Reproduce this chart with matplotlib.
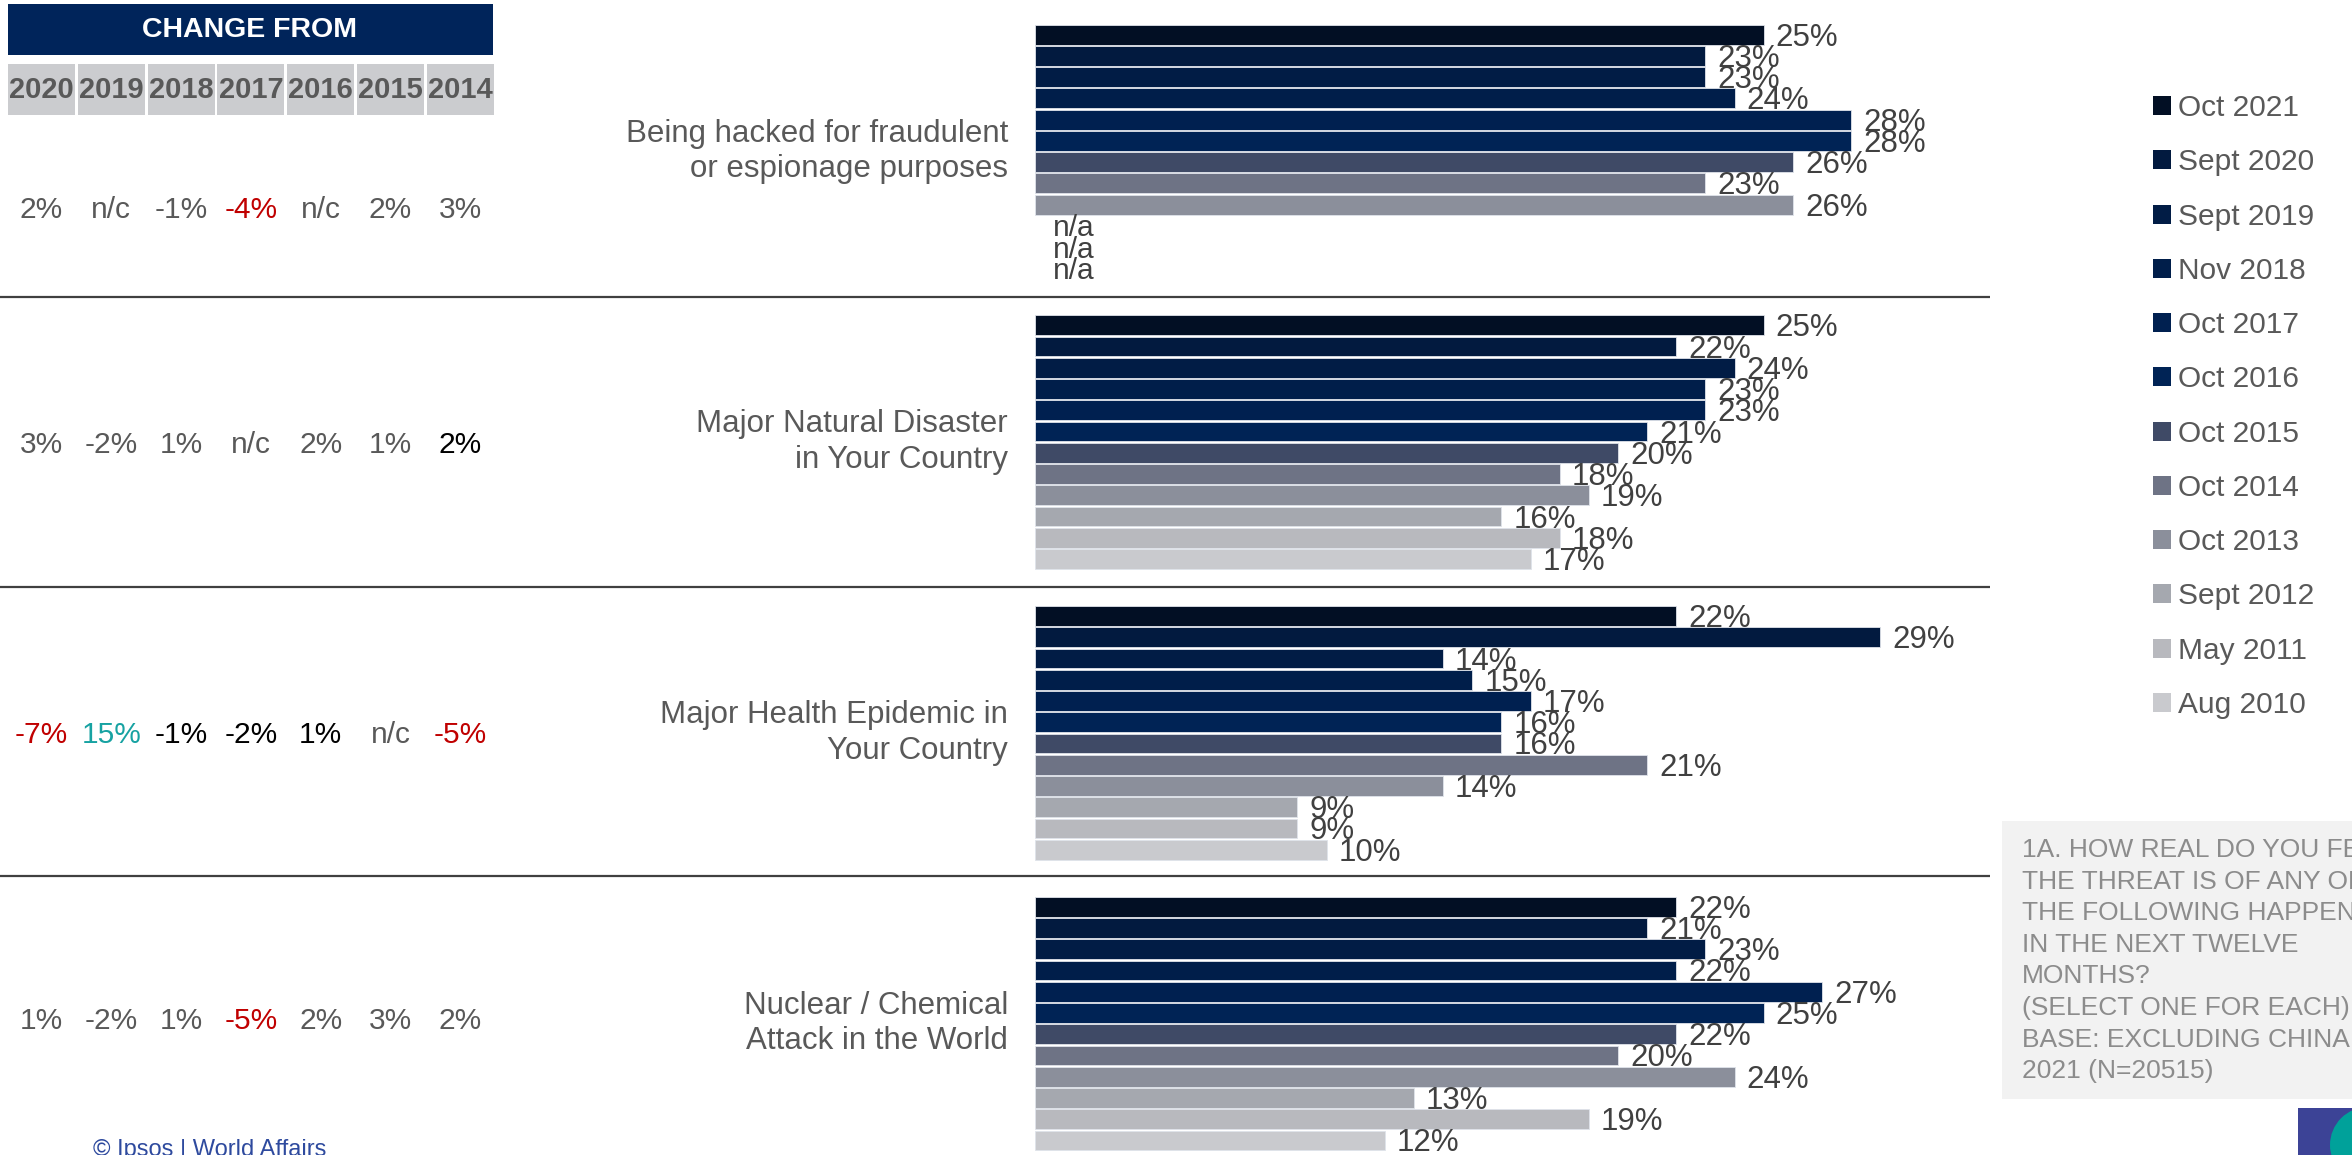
import matplotlib
matplotlib.use("Agg")
import matplotlib.pyplot as plt
from matplotlib.patches import Rectangle, Circle, Patch
from matplotlib import font_manager

# ---------------- data ----------------
categories = [
    "Being hacked for fraudulent\nor espionage purposes",
    "Major Natural Disaster\nin Your Country",
    "Major Health Epidemic in\nYour Country",
    "Nuclear / Chemical\nAttack in the World",
]
waves = ["Oct 2021", "Sept 2020", "Sept 2019", "Nov 2018", "Oct 2017", "Oct 2016",
         "Oct 2015", "Oct 2014", "Oct 2013", "Sept 2012", "May 2011", "Aug 2010"]
hacked = [25, 23, 23, 24, 28, 28, 26, 23, 26, None, None, None]
natural = [25, 22, 24, 23, 23, 21, 20, 18, 19, 16, 18, 17]
health = [22, 29, 14, 15, 17, 16, 16, 21, 14, 9, 9, 10]
nuclear = [22, 21, 23, 22, 27, 25, 22, 20, 24, 13, 19, 12]
series = [hacked, natural, health, nuclear]

change_years = ["2020", "2019", "2018", "2017", "2016", "2015", "2014"]
change_hacked = ["2%", "n/c", "-1%", "-4%", "n/c", "2%", "3%"]
change_natural = ["3%", "-2%", "1%", "n/c", "2%", "1%", "2%"]
change_health = ["-7%", "15%", "-1%", "-2%", "1%", "n/c", "-5%"]
change_nuclear = ["1%", "-2%", "1%", "-5%", "2%", "3%", "2%"]
changes = [change_hacked, change_natural, change_health, change_nuclear]

question = ("1A. HOW REAL DO YOU FEEL\nTHE THREAT IS OF ANY OF\nTHE FOLLOWING HAPPENING\n"
            "IN THE NEXT TWELVE\nMONTHS?\n(SELECT ONE FOR EACH)\nBASE: EXCLUDING CHINA\n2021 (N=20515)")
footer = "\u00a9 Ipsos | World Affairs"

# ---------------- styles ----------------
wave_colors = ["#020F24", "#021A3F", "#011C45", "#001E4A", "#002050", "#002355",
               "#3F4A66", "#6E7385", "#8B8F9B", "#A5A8AF", "#B8B9BE", "#C9CACE"]
GRAY = "#595959"
RED = "#C00000"
TEAL = "#17A2A2"
BLACK = "#000000"
change_colors = [
    [GRAY, GRAY, GRAY, RED, GRAY, GRAY, GRAY],
    [GRAY, GRAY, GRAY, GRAY, GRAY, GRAY, BLACK],
    [RED, TEAL, BLACK, BLACK, BLACK, GRAY, RED],
    [GRAY, GRAY, GRAY, RED, GRAY, GRAY, GRAY],
]


def font_ok(name):
    try:
        font_manager.findfont(font_manager.FontProperties(family=name), fallback_to_default=False)
        return True
    except Exception:
        return False


BASE = "Liberation Sans" if font_ok("Liberation Sans") else "DejaVu Sans"
plt.rcParams["font.family"] = [BASE, "DejaVu Sans"]

W, H = 2352, 1155
fig = plt.figure(figsize=(W / 100, H / 100), dpi=100)
fig.patch.set_facecolor("white")

# overlay axes in pixel coordinates
ax0 = fig.add_axes([0, 0, 1, 1])
ax0.set_xlim(0, W)
ax0.set_ylim(H, 0)
ax0.axis("off")

# bar axes
X0 = 1035
PX_PER_PCT = 29.15
SLOT = 21.25
GROUP_PITCH = 290.7
TOP0 = 24
bx = fig.add_axes([X0 / W, 0, (W - X0) / W, 1])
bx.set_xlim(0, (W - X0) / PX_PER_PCT)
bx.set_ylim(H / SLOT, 0)
bx.axis("off")
bx.patch.set_visible(False)

label_off = 12 / PX_PER_PCT
na_off = 18 / PX_PER_PCT
for g, vals in enumerate(series):
    top = (TOP0 + g * GROUP_PITCH) / SLOT
    ys = [top + i + 0.5 for i in range(len(vals))]
    for i, (v, y) in enumerate(zip(vals, ys)):
        if v is None:
            bx.text(na_off, y + 0.12, "n/a", ha="left", va="center", fontsize=21.5,
                    color="#404040")
            continue
        bx.barh(y, v, height=0.93, color=wave_colors[i], edgecolor="#dfe3ea", linewidth=0.6)
        bx.text(v + label_off, y + 0.14, f"{v}%", ha="left", va="center", fontsize=22.5,
                color="#404040")
    center = top + len(vals) / 2
    bx.text(-(X0 - 1008) / PX_PER_PCT, center, categories[g], ha="right", va="center",
            multialignment="right", fontsize=22.5, color=GRAY, linespacing=1.25, clip_on=False)

# separators
for ysep in [297, 587, 876]:
    ax0.plot([0, 1990], [ysep, ysep], color="#404040", lw=1.6, solid_capstyle="butt")

# change-from table
ax0.add_patch(Rectangle((8, 4), 485, 51, color="#00245A", lw=0))
ax0.text(250, 30, "CHANGE FROM", ha="center", va="center", fontsize=20.5, color="white",
         fontweight="bold")
col_x = [8 + k * 69.8 for k in range(7)]
for k, yr in enumerate(change_years):
    ax0.add_patch(Rectangle((col_x[k], 64), 67, 51, color="#CBCCCF", lw=0))
    ax0.text(col_x[k] + 33.5, 90, yr, ha="center", va="center", fontsize=21,
             color=GRAY, fontweight="bold")
row_y = [210, 445, 735, 1021]
for r, row in enumerate(changes):
    for k, txt in enumerate(row):
        ax0.text(col_x[k] + 33.5, row_y[r], txt, ha="center", va="center", fontsize=21.5,
                 color=change_colors[r][k])

# legend
handles = [Patch(facecolor=c, edgecolor="none") for c in wave_colors]
leg = ax0.legend(handles, waves, loc="upper left", bbox_to_anchor=(2153 / W, 1 - 94 / H),
                 bbox_transform=fig.transFigure, frameon=False, fontsize=21.5,
                 handlelength=0.6, handleheight=0.6, handletextpad=0.25,
                 labelspacing=0.88, borderaxespad=0, borderpad=0)
for t in leg.get_texts():
    t.set_color(GRAY)

# question box
ax0.add_patch(Rectangle((2002, 821), 400, 278, color="#F2F2F2", lw=0, clip_on=True))
ax0.text(2022, 838, question, ha="left", va="top", fontsize=19, color="#8C8C8C",
         linespacing=1.40, clip_on=True)

# footer
ax0.text(93, 1139, footer, ha="left", va="top", fontsize=17, color="#2E4A9E", clip_on=False)

# logo
ax0.add_patch(Rectangle((2298, 1108), 80, 80, color="#3C4396", lw=0, clip_on=True))
ax0.add_patch(Circle((2368, 1145), 38, color="#00A19A", lw=0, clip_on=True))

fig.savefig("out.png", dpi=100, facecolor="white")
